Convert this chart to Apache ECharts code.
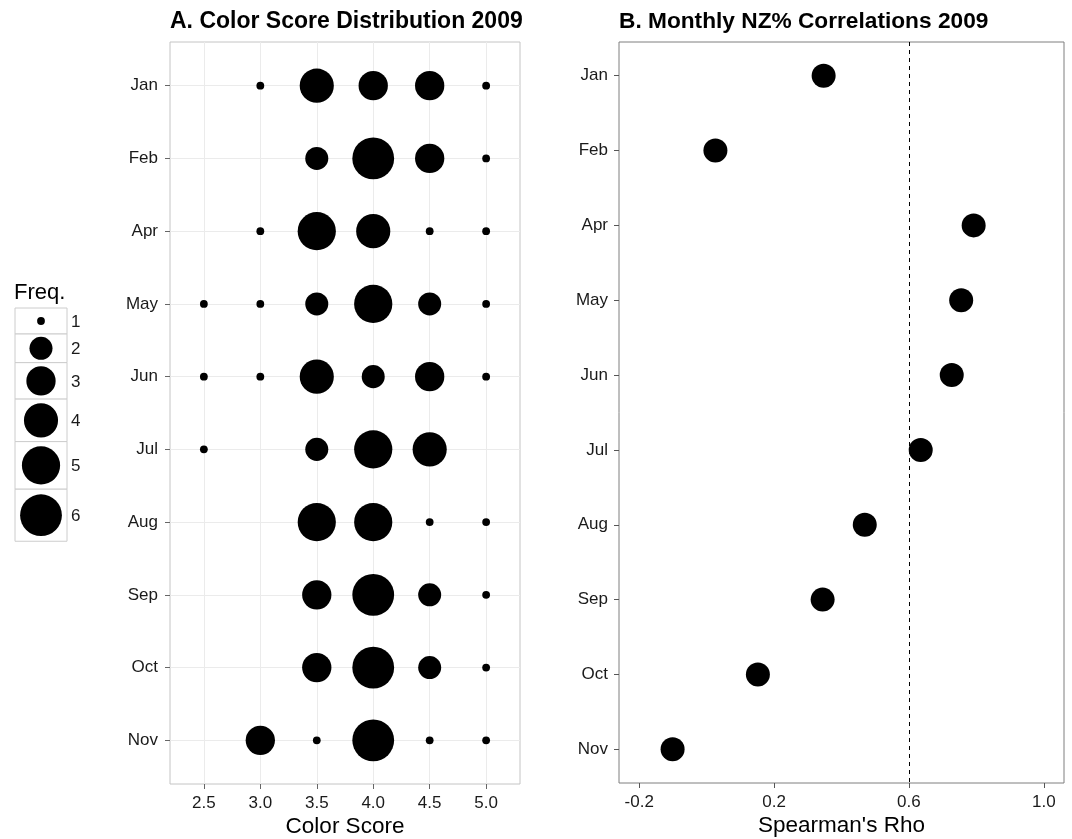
<!DOCTYPE html>
<html>
<head>
<meta charset="utf-8">
<script src="https://cdn.jsdelivr.net/npm/echarts@6/dist/echarts.min.js"></script>
<style>
html,body{margin:0;padding:0;background:#fff;}
#c{width:1072px;height:839px;}
</style>
</head>
<body>
<div id="c"></div>
<script>
// ---- data ----
var months = ['Jan','Feb','Apr','May','Jun','Jul','Aug','Sep','Oct','Nov'];
var colorScores = [2.5, 3.0, 3.5, 4.0, 4.5, 5.0];
// frequency of each colour score per month (0 = absent)
var freqJan = [0,1,4,3,3,1];
var freqFeb = [0,0,2,6,3,1];
var freqApr = [0,1,5,4,1,1];
var freqMay = [1,1,2,5,2,1];
var freqJun = [1,1,4,2,3,1];
var freqJul = [1,0,2,5,4,0];
var freqAug = [0,0,5,5,1,1];
var freqSep = [0,0,3,6,2,1];
var freqOct = [0,0,3,6,2,1];
var freqNov = [0,3,1,6,1,1];
var freqByMonth = [freqJan,freqFeb,freqApr,freqMay,freqJun,freqJul,freqAug,freqSep,freqOct,freqNov];
var rho = [0.347, 0.026, 0.792, 0.755, 0.727, 0.635, 0.469, 0.344, 0.152, -0.101];
var rhoThreshold = 0.6;
var rhoTicks = [-0.2, 0.2, 0.6, 1.0];
var freqLevels = [1,2,3,4,5,6];
var monthTicks = [1,2,3,4,5,6,7,8,9,10];

// ---- size scale (area) ----
function bubbleSize(f){ return 1.0 + 6.8 * (1 + 5*Math.sqrt((f-1)/5)); }

var bubbleData = [];
freqByMonth.forEach(function(row, mi){
  row.forEach(function(f, si){
    if (f > 0) bubbleData.push([colorScores[si], mi+1, f]);
  });
});
var rhoData = rho.map(function(v,i){ return [v, i+1]; });

var FONT = 'Liberation Sans, Arial, sans-serif';
var txt = '#1a1a1a';
var TICK_FS = 17;

// ---- legend graphic ----
var graphics = [];
graphics.push({type:'text', left:14, top:282, style:{text:'Freq.', font:'22px '+FONT, fill:'#000'}});
var y0 = 308;
freqLevels.forEach(function(f){
  var d = bubbleSize(f);
  var h = Math.max(26, d*1.245);
  graphics.push({type:'rect', shape:{x:15, y:y0, width:52, height:h}, style:{fill:'#fff', stroke:'#cccccc', lineWidth:1}});
  graphics.push({type:'circle', shape:{cx:41, cy:y0+h/2, r:d/2}, style:{fill:'#000'}});
  graphics.push({type:'text', x:71, y:y0+h/2+1, style:{text:String(f), font:TICK_FS+'px '+FONT, fill:txt, textVerticalAlign:'middle'}});
  y0 += h;
});

var chart = echarts.init(document.getElementById('c'), null, {renderer:'canvas'});
chart.setOption({
  animation:false,
  backgroundColor:'#fff',
  title:[
    {text:'A. Color Score Distribution 2009', left:170, top:10, padding:0, textStyle:{fontFamily:FONT, fontSize:23, fontWeight:'bold', color:'#000'}},
    {text:'B. Monthly NZ% Correlations 2009', left:619, top:10, padding:0, textStyle:{fontFamily:FONT, fontSize:22.7, fontWeight:'bold', color:'#000'}}
  ],
  grid:[
    {left:170, right:552, top:42, bottom:55, show:true, borderColor:'#c4c4c4', borderWidth:1, containLabel:false, outerBoundsMode:'none'},
    {left:619, right:8, top:42, bottom:56, show:true, borderColor:'#7f7f7f', borderWidth:1, containLabel:false, outerBoundsMode:'none'}
  ],
  xAxis:[
    {gridIndex:0, type:'value', min:2.2, max:5.3,
     name:'Color Score', nameLocation:'middle', nameGap:31, nameMoveOverlap:false,
     nameTextStyle:{fontFamily:FONT, fontSize:22.5, color:'#000'},
     axisLine:{show:false, onZero:false},
     axisTick:{show:true, length:5, customValues:colorScores, lineStyle:{color:'#666'}},
     axisLabel:{customValues:colorScores, margin:11, fontFamily:FONT, fontSize:TICK_FS, color:txt, formatter:function(v){return v.toFixed(1);}},
     splitLine:{show:true, lineStyle:{color:'#ebebeb', width:1}}
    },
    {gridIndex:1, type:'value', min:-0.26, max:1.06,
     name:"Spearman's Rho", nameLocation:'middle', nameGap:31, nameMoveOverlap:false,
     nameTextStyle:{fontFamily:FONT, fontSize:22.5, color:'#000'},
     axisLine:{show:false, onZero:false},
     axisTick:{show:true, length:5, customValues:rhoTicks, lineStyle:{color:'#555'}},
     axisLabel:{customValues:rhoTicks, margin:11, fontFamily:FONT, fontSize:TICK_FS, color:txt, formatter:function(v){return v.toFixed(1);}},
     splitLine:{show:false}
    }
  ],
  yAxis:[
    {gridIndex:0, type:'value', min:0.4, max:10.6, inverse:true,
     axisLine:{show:false, onZero:false},
     axisTick:{show:true, length:5, customValues:monthTicks, lineStyle:{color:'#666'}},
     axisLabel:{customValues:monthTicks, margin:12, fontFamily:FONT, fontSize:TICK_FS, color:txt, formatter:function(v){return months[Math.round(v)-1];}},
     splitLine:{show:true, lineStyle:{color:'#ebebeb', width:1}}
    },
    {gridIndex:1, type:'value', min:0.55, max:10.45, inverse:true,
     axisLine:{show:false, onZero:false},
     axisTick:{show:true, length:5, customValues:monthTicks, lineStyle:{color:'#555'}},
     axisLabel:{customValues:monthTicks, margin:11, fontFamily:FONT, fontSize:TICK_FS, color:txt, formatter:function(v){return months[Math.round(v)-1];}},
     splitLine:{show:false}
    }
  ],
  series:[
    {type:'scatter', xAxisIndex:0, yAxisIndex:0, data:bubbleData,
     symbol:'circle', symbolSize:function(d){return bubbleSize(d[2]);},
     itemStyle:{color:'#000', opacity:1}, silent:true},
    {type:'scatter', xAxisIndex:1, yAxisIndex:1, data:rhoData,
     symbol:'circle', symbolSize:24, itemStyle:{color:'#000', opacity:1}, silent:true,
     markLine:{silent:true, symbol:['none','none'], label:{show:false},
       lineStyle:{color:'#000', width:1, type:[4,4]},
       data:[{xAxis:rhoThreshold}]}
    }
  ],
  graphic:graphics
});
</script>
</body>
</html>
